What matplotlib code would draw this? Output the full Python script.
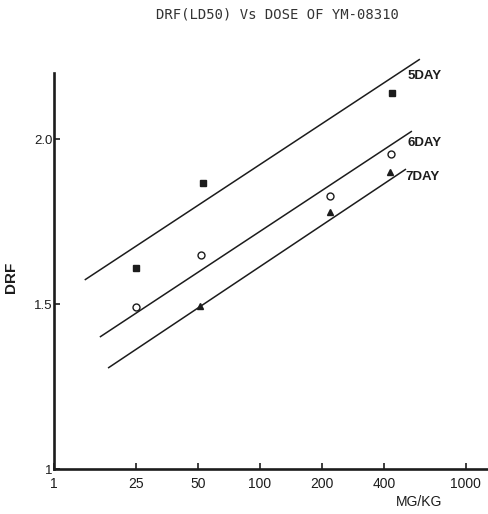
import matplotlib
matplotlib.use("Agg")
import matplotlib.pyplot as plt
from matplotlib.ticker import FixedLocator, FixedFormatter, NullLocator

# measured points (dose mg/kg, DRF)
dose_5 = [25, 53, 440]
drf_5 = [1.609, 1.867, 2.138]
dose_6 = [25, 52, 219, 433]
drf_6 = [1.491, 1.648, 1.828, 1.955]
dose_7 = [51, 218, 430]
drf_7 = [1.494, 1.779, 1.900]

# fitted lines (end points)
fit_dose_5 = [14.1, 598]
fit_drf_5 = [1.573, 2.242]
fit_dose_6 = [16.7, 547]
fit_drf_6 = [1.400, 2.024]
fit_dose_7 = [18.3, 512]
fit_drf_7 = [1.306, 1.909]

# line labels
day_labels = ["5DAY", "6DAY", "7DAY"]
day_label_dose = [523, 523, 506]
day_label_drf = [2.191, 1.988, 1.885]

x_ticks = [10, 25, 50, 100, 200, 400, 1000]
x_ticklabels = ["1", "25", "50", "100", "200", "400", "1000"]
y_ticks = [1.0, 1.5, 2.0]
y_ticklabels = ["1", "1.5", "2.0"]

ink = "#1c1c1c"
plt.rcParams['font.family'] = ['Liberation Sans', 'DejaVu Sans']

fig = plt.figure(figsize=(4.89, 5.14), dpi=100)
ax = fig.add_axes([0.1104, 0.0875, 0.8896, 0.8025])

ax.set_xscale("log")
ax.set_xlim(10, 1295)
ax.set_ylim(1.0, 2.25)

for fd, fy in [(fit_dose_5, fit_drf_5), (fit_dose_6, fit_drf_6), (fit_dose_7, fit_drf_7)]:
    ax.plot(fd, fy, color=ink, lw=1.1, solid_capstyle="butt")

ax.plot(dose_5, drf_5, ls="none", marker="s", ms=4.5, color=ink)
ax.plot(dose_6, drf_6, ls="none", marker="o", ms=5, mfc="white", mec=ink, mew=1.0)
ax.plot(dose_7, drf_7, ls="none", marker="^", ms=5, color=ink)

for lab, xd, yd in zip(day_labels, day_label_dose, day_label_drf):
    ax.text(xd, yd, lab, ha="left", va="center", fontsize=9.5,
            fontweight="bold", color=ink)

# axes styling
for side in ["top", "right"]:
    ax.spines[side].set_visible(False)
for side in ["left", "bottom"]:
    ax.spines[side].set_linewidth(1.9)
    ax.spines[side].set_color(ink)
ax.spines["left"].set_bounds(1.0, 2.2)

ax.xaxis.set_major_locator(FixedLocator(x_ticks))
ax.xaxis.set_major_formatter(FixedFormatter(x_ticklabels))
ax.xaxis.set_minor_locator(NullLocator())
ax.yaxis.set_major_locator(FixedLocator(y_ticks))
ax.yaxis.set_major_formatter(FixedFormatter(y_ticklabels))

ax.tick_params(axis="x", direction="in", length=4, width=1.2, color=ink,
               labelsize=10, labelcolor=ink, pad=6)
ax.tick_params(axis="y", direction="in", length=4, width=1.2, color=ink,
               labelsize=9.5, labelcolor=ink, pad=1)

ax.text(-0.099, 0.465, "DRF", transform=ax.transAxes, rotation=90,
        ha="center", va="center", fontsize=11, fontweight="bold", color=ink)
ax.text(0.839, -0.08, "MG/KG", transform=ax.transAxes,
        ha="center", va="center", fontsize=10, color=ink)

fig.text(277 / 489, 1 - 15 / 514, "DRF(LD50) Vs DOSE OF YM-08310",
         ha="center", va="center", fontsize=10, family="DejaVu Sans Mono",
         color="#333333")

fig.savefig("out.png", dpi=100)
